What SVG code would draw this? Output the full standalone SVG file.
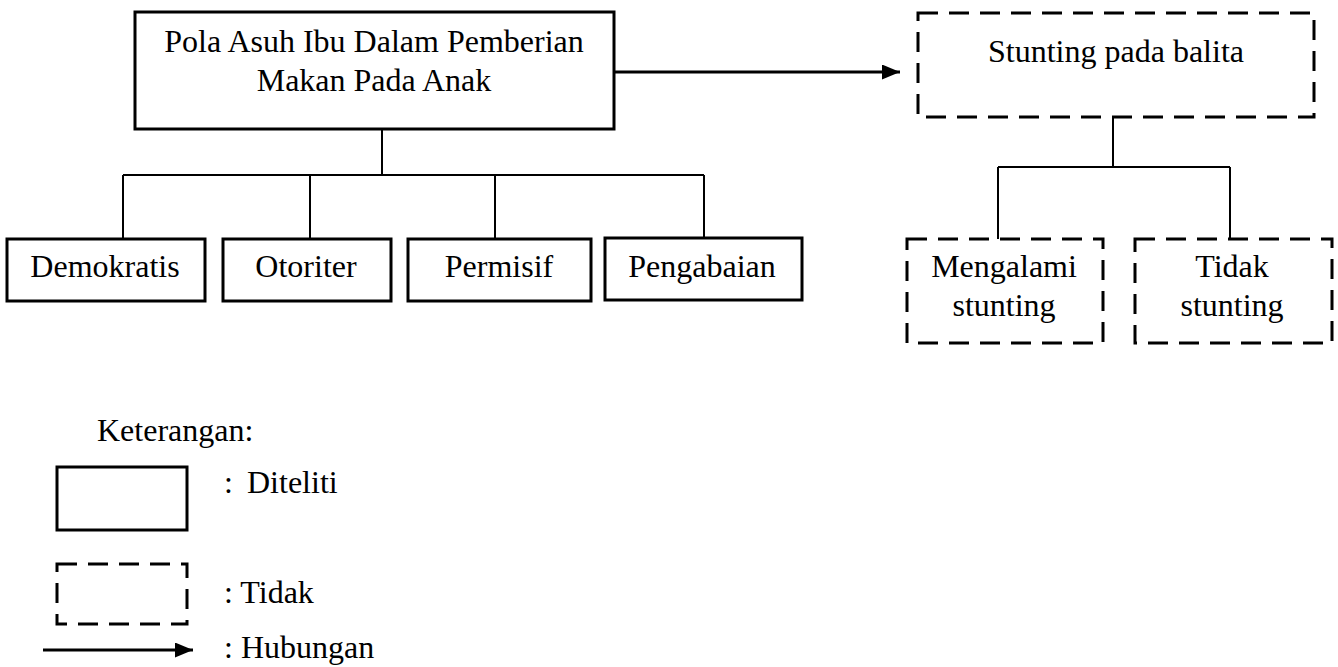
<svg xmlns="http://www.w3.org/2000/svg" width="1338" height="667" viewBox="0 0 1338 667">
<style>
text{font-family:"Liberation Serif","Times New Roman",serif;font-size:32px;fill:#000}
.c{text-anchor:middle}
.box{fill:#fff;stroke:#000;stroke-width:3}
.dash{fill:#fff;stroke:#000;stroke-width:3;stroke-dasharray:20 11}
.ln{fill:none;stroke:#000;stroke-width:2}
.arr{fill:none;stroke:#000;stroke-width:3}
</style>
<defs>
<marker id="ah" markerWidth="6" markerHeight="5" refX="6" refY="2.5" orient="auto" markerUnits="strokeWidth">
<path d="M0,0 L6,2.5 L0,5 Z" fill="#000"/>
</marker>
</defs>
<rect width="1338" height="667" fill="#fff"/>
<g id="connectors">
<path class="ln" d="M382,129 V176 M123,175 H704 M123,175 V239 M310,175 V239 M495,175 V239 M704,175 V238"/>
<path class="ln" d="M1113,117 V167 M998,167 H1230 M998,167 V239 M1230,167 V239"/>
<path class="arr" d="M614,72 H900" marker-end="url(#ah)"/>
</g>
<g id="main">
<rect class="box" x="135" y="12" width="479" height="117"/>
<text class="c" x="374" y="52">Pola Asuh Ibu Dalam Pemberian</text>
<text class="c" x="374" y="91">Makan Pada Anak</text>
</g>
<g id="stunting">
<rect class="dash" x="918" y="13" width="396" height="104"/>
<text class="c" x="1116" y="62">Stunting pada balita</text>
</g>
<g id="demokratis">
<rect class="box" x="7" y="239" width="198" height="62"/>
<text class="c" x="105" y="277">Demokratis</text>
</g>
<g id="otoriter">
<rect class="box" x="223" y="239" width="168" height="62"/>
<text class="c" x="306" y="277">Otoriter</text>
</g>
<g id="permisif">
<rect class="box" x="408" y="239" width="183" height="62"/>
<text class="c" x="499" y="277">Permisif</text>
</g>
<g id="pengabaian">
<rect class="box" x="605" y="238" width="197" height="62"/>
<text class="c" x="702" y="277">Pengabaian</text>
</g>
<g id="mengalami">
<rect class="dash" x="907" y="239" width="196" height="104"/>
<text class="c" x="1004" y="277">Mengalami</text>
<text class="c" x="1004" y="316">stunting</text>
</g>
<g id="tidak">
<rect class="dash" x="1135" y="239" width="197" height="104"/>
<text class="c" x="1232" y="277">Tidak</text>
<text class="c" x="1232" y="316">stunting</text>
</g>
<g id="legend">
<text x="97" y="441">Keterangan:</text>
<rect class="box" x="57" y="467" width="130" height="63"/>
<text x="224" y="493">:</text>
<text x="247" y="493">Diteliti</text>
<rect class="dash" x="57" y="564" width="130" height="60"/>
<text x="224" y="603">: Tidak</text>
<path class="arr" d="M43,650 H193" marker-end="url(#ah)"/>
<text x="224" y="658">: Hubungan</text>
</g>
</svg>
